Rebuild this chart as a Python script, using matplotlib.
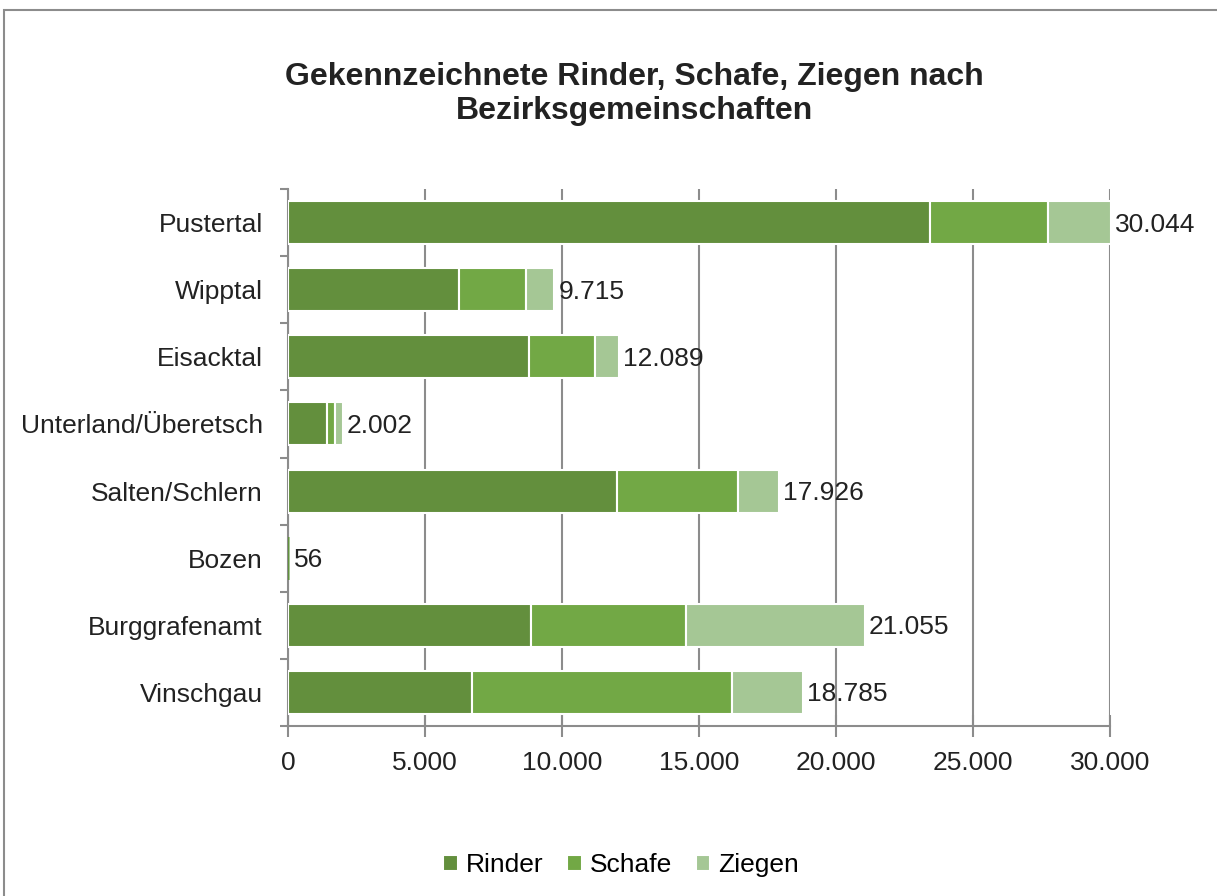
import numpy as np
import matplotlib
matplotlib.use("Agg")
import matplotlib.pyplot as plt
from matplotlib.patches import Rectangle

plt.rcParams['font.family'] = ['Liberation Sans', 'DejaVu Sans']

# data
regions = ["Pustertal", "Wipptal", "Eisacktal", "Unterland/Überetsch",
           "Salten/Schlern", "Bozen", "Burggrafenamt", "Vinschgau"]
rinder = [23430, 6240, 8800, 1420, 12010, 50, 8870, 6720]
schafe = [4310, 2450, 2400, 290, 4410, 4, 5660, 9480]
ziegen = [2304, 1025, 889, 292, 1506, 2, 6525, 2585]
totals = [30044, 9715, 12089, 2002, 17926, 56, 21055, 18785]
xticks = [0, 5000, 10000, 15000, 20000, 25000, 30000]

colors = ["#638f3d", "#72a845", "#a5c795"]
fs = 19

fig = plt.figure(figsize=(12.17, 8.96), dpi=100)
ax = fig.add_axes([288/1217, 1 - 726/896, (1110-288)/1217, (726-189)/896])

y = np.arange(len(regions))
left = np.zeros(len(regions))
# tiny bars (Bozen) get no white edge so they stay visible
lw = [0 if t < 500 else 1.5 for t in totals]
for vals, col, name in zip([rinder, schafe, ziegen], colors, ["Rinder", "Schafe", "Ziegen"]):
    ax.barh(y, vals, left=left, height=0.64, color=col, edgecolor="white",
            linewidth=lw, label=name, zorder=3)
    left += np.array(vals)

for i, t in enumerate(totals):
    lab = f"{t:,}".replace(",", ".")
    ax.text(t + 150, i + 0.03, lab, va="center", ha="left", fontsize=fs, color="#222222", zorder=4)

ax.set_xlim(0, 30000)
ax.set_ylim(len(regions) - 0.5, -0.5)
ax.set_xticks(xticks)
ax.set_xticklabels([f"{v:,}".replace(",", ".") for v in xticks], fontsize=fs, color="#222222")
ax.set_yticks(y)
ax.set_yticklabels(regions, fontsize=fs, color="#222222")
ax.set_yticks(np.arange(len(regions) + 1) - 0.5, minor=True)
ax.tick_params(axis="y", which="major", length=0, pad=18)
ax.tick_params(axis="y", which="minor", length=6, color="#8c8c8c", width=1.5)
ax.tick_params(axis="x", direction="inout", length=16, color="#8c8c8c", width=1.5, pad=10)

ax.grid(axis="x", color="#8c8c8c", linewidth=1.5, zorder=0)
ax.set_axisbelow(True)
for s in ["top", "right"]:
    ax.spines[s].set_visible(False)
for s in ["left", "bottom"]:
    ax.spines[s].set_color("#8c8c8c")
    ax.spines[s].set_linewidth(1.5)

fig.text(634/1217, 1 - 94/896, "Gekennzeichnete Rinder, Schafe, Ziegen nach\nBezirksgemeinschaften",
         ha="center", va="center", fontsize=23, fontweight="bold", color="#222222",
         linespacing=1.2)

fig.legend(loc="center", bbox_to_anchor=(621/1217, 1 - 865/896), ncol=3, frameon=False,
           fontsize=fs, handlelength=0.55, handleheight=0.55, handletextpad=0.3,
           columnspacing=0.9)

# outer chart frame
fig.patches.append(Rectangle((4/1217, -0.05), 1.1, 1 - 10/896 + 0.05, transform=fig.transFigure,
                             fill=False, edgecolor="#8c8c8c", linewidth=1.5))

fig.savefig("out.png", dpi=100, facecolor="white")
